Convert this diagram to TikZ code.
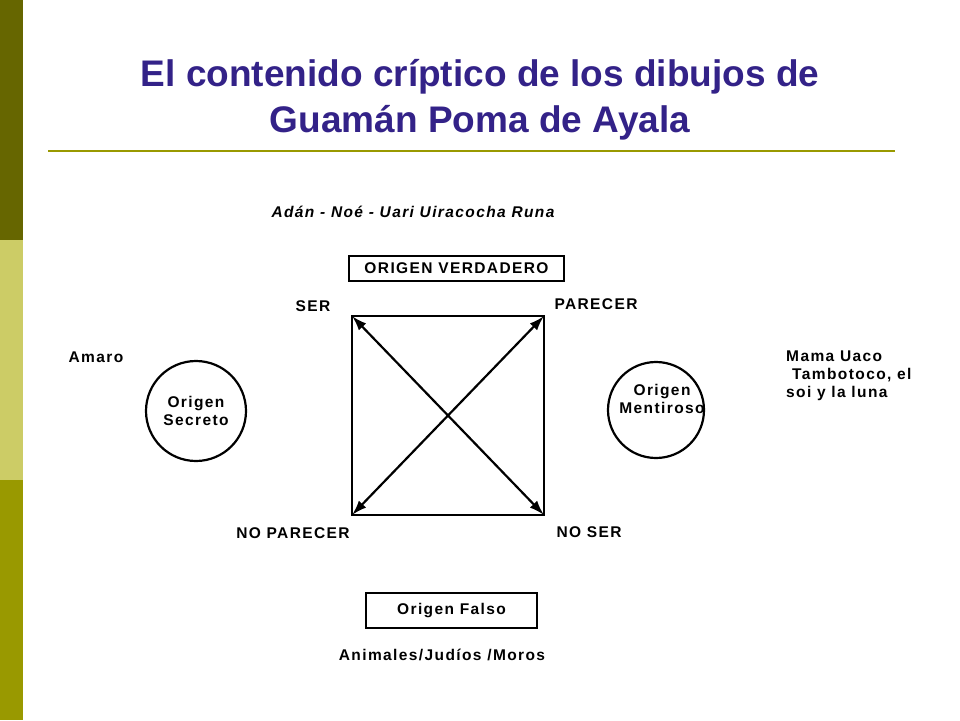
\documentclass[tikz,border=0pt]{standalone}
\usepackage{fontspec}
\setmainfont{Liberation Sans}
\usetikzlibrary{arrows.meta}
\definecolor{titlec}{RGB}{51,34,136}
\definecolor{bar1}{RGB}{102,102,0}
\definecolor{bar2}{RGB}{204,204,102}
\definecolor{bar3}{RGB}{153,153,0}
\begin{document}
\begin{tikzpicture}[x=1pt,y=-1pt,
  lab/.style={font=\bfseries\fontsize{15.5}{18}\selectfont\addfontfeatures{LetterSpace=9}, inner sep=1pt},
  ln/.style={line width=2.2pt},
  arr/.style={ln,{Latex[length=15pt,width=10pt]}-{Latex[length=15pt,width=10pt]}}]
\useasboundingbox (0,0) rectangle (960,720);
\fill[white] (0,0) rectangle (960,720);
\fill[bar1] (0,0) rectangle (23,240);
\fill[bar2] (0,240) rectangle (23,480);
\fill[bar3] (0,480) rectangle (23,720);
\node[font=\bfseries\fontsize{37}{46}\selectfont, text=titlec, align=center] (title) at (480,100) {El contenido críptico de los dibujos de\\Guamán Poma de Ayala};
\draw[bar3, line width=1.2pt] (48,151) -- (895,151);
% square
\coordinate (tl) at (352,316); \coordinate (tr) at (544,316);
\coordinate (bl) at (352,515); \coordinate (br) at (544,515);
\draw[ln] (tl) -- (tr) -- (br) -- (bl) -- cycle;
\draw[arr] (tl) -- (br);
\draw[arr] (tr) -- (bl);
\node[lab] (ser) at (313,306) {SER};
\node[lab] (par) at (596,304) {PARECER};
\node[lab] (npar) at (293,533) {NO PARECER};
\node[lab] (nser) at (589,532) {NO SER};
\node[lab] (adan) at (413,212) {\itshape Adán - Noé - Uari Uiracocha Runa};
\node[lab, draw, ln, minimum width=215pt, minimum height=25pt] (ov) at (456.5,268.5) {ORIGEN VERDADERO};
\node[lab, draw, ln, minimum width=171pt, minimum height=35pt] (of) at (451.5,610.5) {Origen Falso};
\node[lab] (anim) at (442,655) {Animales/Judíos /Moros};
\node[draw, ln, circle, minimum size=100pt] (cs) at (196,411) {};
\node[lab, align=center] at (cs) {Origen\\Secreto};
\node[draw, ln, circle, minimum size=96pt] (cm) at (656,410) {};
\node[lab, align=center] at (662,399) {Origen\\Mentiroso};
\node[lab] (amaro) at (96,357) {Amaro};
\node[lab, align=left, anchor=north west] (mama) at (785,350) {Mama Uaco\\\hspace{6pt}Tambotoco, el\\soi y la luna};
\end{tikzpicture}
\end{document}
